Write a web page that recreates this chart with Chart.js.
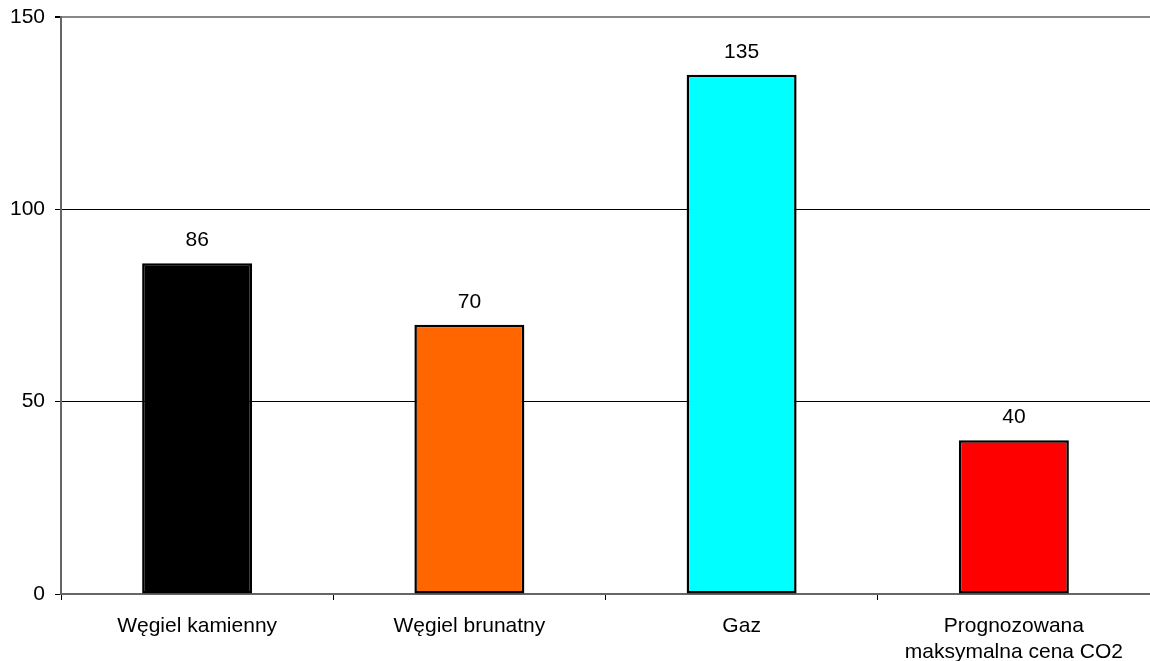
<!DOCTYPE html>
<html>
<head>
<meta charset="utf-8">
<script src="https://cdn.jsdelivr.net/npm/chart.js@4"></script>
<style>
html,body{margin:0;padding:0;background:#fff;}
#wrap{width:1150px;height:661px;position:relative;}
</style>
</head>
<body>
<div id="wrap"><canvas id="c"></canvas></div>
<script>
const categories = ["Węgiel kamienny", "Węgiel brunatny", "Gaz", ["Prognozowana", "maksymalna cena CO2"]];
const values = [86, 70, 135, 40];
const barColors = ["#000000", "#FF6600", "#00FFFF", "#FF0000"];
const yTicks = [0, 50, 100, 150];

const FONT = "'Liberation Sans', Arial, sans-serif";

const valueLabels = {
  id: 'valueLabels',
  afterDatasetsDraw(chart) {
    const ctx = chart.ctx;
    const meta = chart.getDatasetMeta(0);
    ctx.save();
    ctx.font = "21px " + FONT;
    ctx.fillStyle = "#000";
    ctx.textAlign = "center";
    ctx.textBaseline = "alphabetic";
    meta.data.forEach((el, i) => {
      ctx.fillText(String(values[i]), el.x, el.y - 17);
    });
    ctx.restore();
  }
};

new Chart(document.getElementById('c'), {
  type: 'bar',
  data: {
    labels: categories,
    datasets: [{
      data: values,
      backgroundColor: barColors,
      borderColor: "#000",
      borderWidth: 2.5,
      borderSkipped: false,
      categoryPercentage: 1,
      barPercentage: 0.404
    }]
  },
  options: {
    responsive: true,
    maintainAspectRatio: false,
    animation: false,
    layout: { padding: { top: 17, right: 0, left: 0, bottom: 0 } },
    plugins: { legend: { display: false }, tooltip: { enabled: false } },
    scales: {
      x: {
        offset: true,
        grid: { offset: true, drawOnChartArea: false, drawTicks: true, tickLength: 6, color: "#000", lineWidth: 1 },
        border: { display: true, color: "#666", width: 2 },
        ticks: { color: "#000", font: { family: FONT, size: 21, lineHeight: 1.25 }, padding: 13, maxRotation: 0, autoSkip: false },
        afterFit(s) { s.height = 67; s.paddingLeft = 0; s.paddingRight = 0; }
      },
      y: {
        min: 0, max: 150,
        afterBuildTicks(s) { s.ticks = yTicks.map(v => ({ value: v })); },
        grid: {
          color: (c) => c.tick && c.tick.value === 150 ? "#888" : (c.tick && c.tick.value === 0 ? "rgba(0,0,0,0)" : "#000"),
          lineWidth: (c) => c.tick && c.tick.value === 150 ? 2 : 1,
          tickColor: "#000",
          tickLength: 6,
          drawTicks: true
        },
        border: { display: true, color: "#666", width: 2 },
        ticks: { color: "#000", font: { family: FONT, size: 21 }, padding: 10 },
        afterFit(s) { s.width = 61; s.paddingTop = 0; s.paddingBottom = 0; }
      }
    }
  },
  plugins: [valueLabels]
});
</script>
</body>
</html>
